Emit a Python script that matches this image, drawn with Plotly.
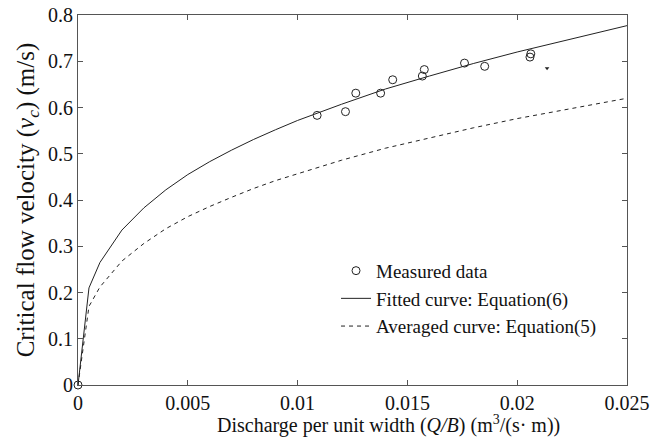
import plotly.graph_objects as go

# Measured data
meas_q = [0.0, 0.01089, 0.01218, 0.01265, 0.01378, 0.01433, 0.01577, 0.01568, 0.01760, 0.01852, 0.02062, 0.02058]
meas_v = [0.0, 0.583, 0.591, 0.631, 0.631, 0.660, 0.682, 0.668, 0.696, 0.689, 0.716, 0.709]

# small stray mark seen in the figure
speck_q = [0.02136]
speck_v = [0.685]

# Curves
curve_q = [0, 0.0005, 0.001, 0.002, 0.003, 0.004, 0.005, 0.006, 0.007, 0.008, 0.009,
           0.010, 0.012, 0.014, 0.016, 0.018, 0.020, 0.022, 0.025]
fitted_v = [0, 0.21, 0.265, 0.335, 0.383, 0.422, 0.455, 0.483, 0.508, 0.531, 0.552,
            0.572, 0.607, 0.640, 0.668, 0.695, 0.720, 0.743, 0.777]
averaged_v = [0, 0.17, 0.212, 0.268, 0.306, 0.338, 0.364, 0.386, 0.406, 0.425, 0.442,
              0.457, 0.486, 0.512, 0.534, 0.556, 0.576, 0.594, 0.62]

x_ticks = [0, 0.005, 0.01, 0.015, 0.02, 0.025]
x_ticktext = ["0", "0.005", "0.01", "0.015", "0.02", "0.025"]
y_ticks = [0, 0.1, 0.2, 0.3, 0.4, 0.5, 0.6, 0.7, 0.8]
y_ticktext = ["0", "0.1", "0.2", "0.3", "0.4", "0.5", "0.6", "0.7", "0.8"]

FONT = "Liberation Serif"

fig = go.Figure()
fig.add_trace(go.Scatter(
    x=meas_q, y=meas_v, mode="markers", name="Measured data",
    marker=dict(symbol="circle-open", size=8, color="#222", line=dict(width=1)),
    cliponaxis=False,
))
fig.add_trace(go.Scatter(
    x=curve_q, y=fitted_v, mode="lines", name="Fitted curve: Equation(6)",
    line=dict(color="#222", width=1),
))
fig.add_trace(go.Scatter(
    x=curve_q, y=averaged_v, mode="lines", name="Averaged curve: Equation(5)",
    line=dict(color="#222", width=1, dash="4px,4px"),
))
fig.add_trace(go.Scatter(
    x=speck_q, y=speck_v, mode="markers", showlegend=False, hoverinfo="skip",
    marker=dict(symbol="triangle-down", size=4, color="#222"),
))

axis_common = dict(
    showgrid=False, zeroline=False, showline=True, linecolor="#555", linewidth=1,
    mirror="ticks", ticks="inside", ticklen=5, tickcolor="#555", automargin=False,
    tickfont=dict(family=FONT, size=20, color="#111"),
)

fig.update_layout(
    width=654, height=441,
    margin=dict(l=78, r=27, t=15, b=56),
    paper_bgcolor="white", plot_bgcolor="white",
    font=dict(family=FONT, size=19, color="#111"),
    showlegend=True,
    legend=dict(x=0.47, y=0.36, xanchor="left", yanchor="top",
                bgcolor="rgba(0,0,0,0)", font=dict(family=FONT, size=19, color="#111"),
                tracegroupgap=0, itemwidth=30),
    xaxis=dict(range=[0, 0.025], tickvals=x_ticks, ticktext=x_ticktext, **axis_common),
    yaxis=dict(range=[0, 0.8], tickvals=y_ticks, ticktext=y_ticktext,
               title=dict(text="Critical flow velocity (<i>v<sub>c</sub></i>) (m/s)",
                          font=dict(family=FONT, size=25), standoff=6),
               **axis_common),
    annotations=[dict(
        text="Discharge per unit width (<i>Q/B</i>) (m<sup>3</sup>/(s· m))",
        xref="paper", yref="paper", x=0.25, y=-0.108, xanchor="left", yanchor="middle",
        showarrow=False, font=dict(family=FONT, size=20, color="#111"),
    )],
)

fig.write_html("out.html")
